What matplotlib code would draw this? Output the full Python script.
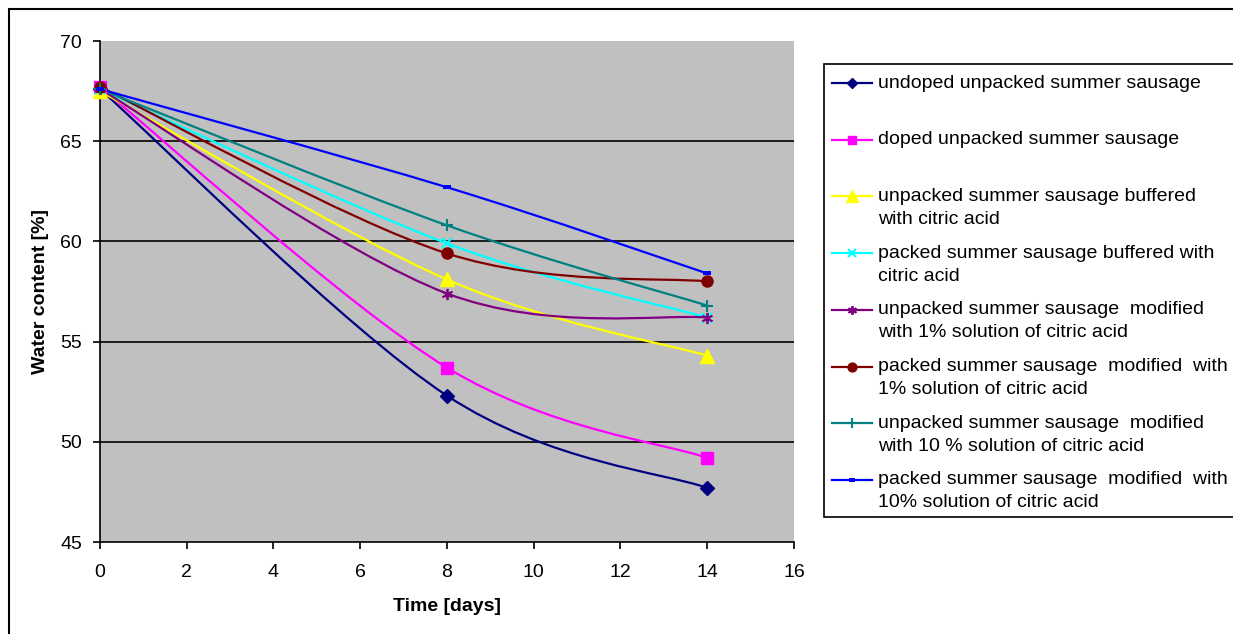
import numpy as np
import matplotlib
matplotlib.use("Agg")
from matplotlib import pyplot as plt
from matplotlib.path import Path
from matplotlib.patches import PathPatch, Rectangle
from matplotlib.lines import Line2D

plt.rcParams['font.family'] = ['Liberation Sans', 'DejaVu Sans']

days = [0, 8, 14]

undoped_unpacked = [67.6, 52.3, 47.7]
doped_unpacked = [67.7, 53.7, 49.2]
unpacked_buffered = [67.5, 58.1, 54.3]
packed_buffered = [67.6, 59.9, 56.2]
unpacked_1pct = [67.6, 57.4, 56.2]
packed_1pct = [67.7, 59.4, 58.0]
unpacked_10pct = [67.6, 60.8, 56.8]
packed_10pct = [67.6, 62.7, 58.4]

labels = [
    "undoped unpacked summer sausage",
    "doped unpacked summer sausage",
    "unpacked summer sausage buffered\nwith citric acid",
    "packed summer sausage buffered with\ncitric acid",
    "unpacked summer sausage  modified\nwith 1% solution of citric acid",
    "packed summer sausage  modified  with\n1% solution of citric acid",
    "unpacked summer sausage  modified\nwith 10 % solution of citric acid",
    "packed summer sausage  modified  with\n10% solution of citric acid",
]

series = [undoped_unpacked, doped_unpacked, unpacked_buffered, packed_buffered,
          unpacked_1pct, packed_1pct, unpacked_10pct, packed_10pct]

# small flat bar used by the last series
bar = [(-1, -0.45), (1, -0.45), (1, 0.45), (-1, 0.45), (-1, -0.45)]

styles = [
    dict(color="#000080", marker="D", ms=7, mew=1),
    dict(color="#FF00FF", marker="s", ms=8, mew=1),
    dict(color="#FFFF00", marker="^", ms=10, mew=1),
    dict(color="#00FFFF", marker="x", ms=7, mew=1.5),
    dict(color="#800080", marker=(6, 2, 0), ms=8, mew=1.3),
    dict(color="#800000", marker="o", ms=8, mew=1),
    dict(color="#008080", marker="+", ms=9, mew=1.5),
    dict(color="#0000FF", marker=bar, ms=6, mew=0),
]


def smooth_path(xs, ys):
    # Bezier segments with Catmull-Rom style control points (spreadsheet "smoothed line")
    pts = np.column_stack([xs, ys]).astype(float)
    n = len(pts)
    verts = [pts[0]]
    codes = [Path.MOVETO]
    for i in range(n - 1):
        p0 = pts[i - 1] if i > 0 else pts[i]
        p1 = pts[i]
        p2 = pts[i + 1]
        p3 = pts[i + 2] if i + 2 < n else pts[i + 1]
        c1 = p1 + (p2 - p0) / 6.0
        c2 = p2 - (p3 - p1) / 6.0
        verts += [c1, c2, p2]
        codes += [Path.CURVE4] * 3
    return Path(verts, codes)


W, H = 1233, 634
fig = plt.figure(figsize=(W / 100, H / 100), dpi=100)
ax = fig.add_axes([100 / W, 1 - 542 / H, 694 / W, 501 / H])
ax.set_facecolor("#C0C0C0")

ax.set_xlim(0, 16)
ax.set_ylim(45, 70)
ax.set_xticks(np.arange(0, 17, 2))
ax.set_yticks(np.arange(45, 71, 5))

# horizontal gridlines inside the plot area only
yt = ax.get_yticks()
ax.hlines(yt[1:-1], 0, 16, colors="black", lw=1.2, zorder=1)

for ys, st in zip(series, styles):
    ax.add_patch(PathPatch(smooth_path(days, ys), fill=False, edgecolor=st["color"], lw=1.6, zorder=3))
    ax.plot(days, ys, linestyle="none", marker=st["marker"], ms=st["ms"], mew=st["mew"],
            color=st["color"], mfc=st["color"], mec=st["color"], zorder=4, clip_on=False)

for s in ["top", "right"]:
    ax.spines[s].set_visible(False)
for s in ["left", "bottom"]:
    ax.spines[s].set_linewidth(1.2)
ax.tick_params(axis="both", direction="out", length=5, width=1.2, labelsize=14, colors="black")
ax.tick_params(axis="x", pad=11)
ax.tick_params(axis="y", pad=8)
ax.set_xlabel("Time [days]", fontsize=14, fontweight="bold", labelpad=12)
ax.set_ylabel("Water content [%]", fontsize=14, fontweight="bold", labelpad=8)

# outer chart frame
fig.add_artist(Rectangle((9 / W, -0.1), 2, 1.1 - 9 / H, transform=fig.transFigure,
                         fill=False, edgecolor="black", lw=1.5))

# legend box, running past the right edge
fig.add_artist(Rectangle((824 / W, 1 - 517 / H), 2, (517 - 64) / H, transform=fig.transFigure,
                         facecolor="white", edgecolor="black", lw=1.2))
for i, (lab, st) in enumerate(zip(labels, styles)):
    yp = 83 + i * 56.7
    yf = 1 - yp / H
    fig.add_artist(Line2D([832 / W, 872 / W], [yf, yf], transform=fig.transFigure,
                          color=st["color"], lw=1.6))
    fig.add_artist(Line2D([852 / W], [yf], transform=fig.transFigure, linestyle="none",
                          marker=st["marker"], ms=st["ms"] * 0.8, mew=st["mew"],
                          color=st["color"], mfc=st["color"], mec=st["color"]))
    for k, line in enumerate(lab.split("\n")):
        fig.text(878 / W, 1 - (yp + k * 23) / H, line, fontsize=14, va="center", ha="left")

fig.savefig("out.png", dpi=100)
